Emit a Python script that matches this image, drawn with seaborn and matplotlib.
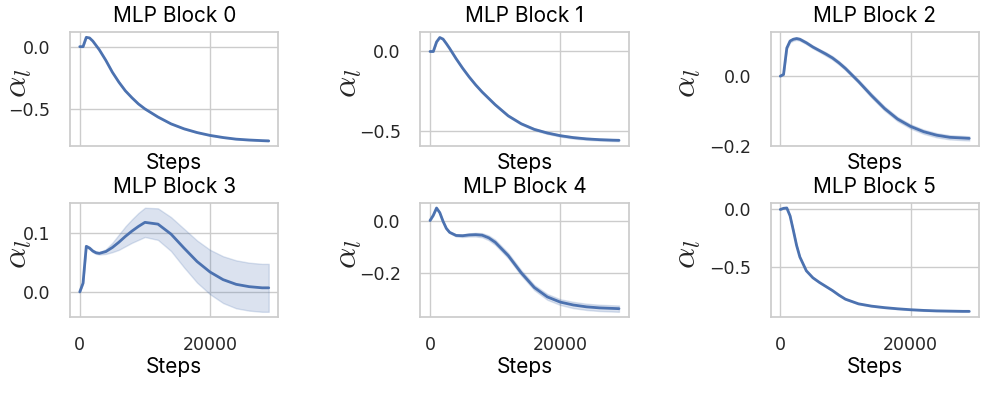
import numpy as np
import pandas as pd
import seaborn as sns
import matplotlib.pyplot as plt

# training steps (shared by every block)
steps = [0, 500, 1000, 1500, 2000, 2500, 3000, 4000, 5000, 6000, 7000, 8000, 9000, 10000,
         12000, 14000, 16000, 18000, 20000, 22000, 24000, 26000, 28000, 29000]

# mean alpha_l per MLP block and half width of the shaded band
block_0 = [0.0, 0.0, 0.075, 0.07, 0.045, 0.01, -0.025, -0.11, -0.205, -0.285, -0.355, -0.41, -0.46, -0.5,
           -0.565, -0.62, -0.66, -0.69, -0.713, -0.73, -0.743, -0.75, -0.755, -0.757]
block_0_band = [0.0, 0.001, 0.001, 0.001, 0.001, 0.002, 0.002, 0.002, 0.002, 0.003, 0.003, 0.003, 0.003, 0.003,
                0.003, 0.003, 0.003, 0.003, 0.003, 0.003, 0.003, 0.003, 0.003, 0.003]

block_1 = [0.0, 0.0, 0.06, 0.088, 0.078, 0.05, 0.02, -0.045, -0.105, -0.16, -0.21, -0.255, -0.295, -0.335,
           -0.405, -0.455, -0.49, -0.513, -0.53, -0.542, -0.55, -0.555, -0.558, -0.559]
block_1_band = [0.0, 0.001, 0.001, 0.002, 0.002, 0.002, 0.003, 0.003, 0.004, 0.004, 0.004, 0.004, 0.005, 0.005,
                0.005, 0.005, 0.006, 0.006, 0.006, 0.006, 0.006, 0.006, 0.006, 0.006]

block_2 = [0.0, 0.005, 0.08, 0.1, 0.105, 0.107, 0.105, 0.095, 0.083, 0.073, 0.063, 0.052, 0.038, 0.022,
           -0.015, -0.055, -0.092, -0.122, -0.143, -0.158, -0.168, -0.174, -0.176, -0.177]
block_2_band = [0.0, 0.002, 0.004, 0.004, 0.004, 0.004, 0.004, 0.004, 0.004, 0.004, 0.005, 0.005, 0.005, 0.005,
                0.005, 0.006, 0.006, 0.006, 0.006, 0.006, 0.006, 0.006, 0.006, 0.006]

block_3 = [0.0, 0.015, 0.078, 0.075, 0.07, 0.067, 0.066, 0.069, 0.076, 0.085, 0.095, 0.104, 0.112, 0.119,
           0.116, 0.099, 0.075, 0.052, 0.034, 0.021, 0.013, 0.009, 0.007, 0.007]
block_3_band = [0.0, 0.001, 0.002, 0.002, 0.002, 0.002, 0.002, 0.004, 0.008, 0.013, 0.017, 0.02, 0.023, 0.025,
                0.027, 0.029, 0.033, 0.036, 0.038, 0.04, 0.041, 0.041, 0.041, 0.041]

block_4 = [0.0, 0.02, 0.048, 0.03, -0.003, -0.03, -0.045, -0.057, -0.058, -0.055, -0.054, -0.056, -0.066, -0.083,
           -0.134, -0.2, -0.256, -0.292, -0.312, -0.323, -0.33, -0.334, -0.336, -0.337]
block_4_band = [0.0, 0.001, 0.001, 0.002, 0.002, 0.003, 0.003, 0.004, 0.005, 0.006, 0.007, 0.008, 0.009, 0.01,
                0.01, 0.01, 0.01, 0.011, 0.011, 0.012, 0.012, 0.012, 0.012, 0.012]

block_5 = [0.0, 0.01, 0.013, -0.055, -0.18, -0.31, -0.41, -0.53, -0.59, -0.63, -0.665, -0.7, -0.74, -0.775,
           -0.815, -0.835, -0.848, -0.858, -0.866, -0.872, -0.876, -0.878, -0.88, -0.88]
block_5_band = [0.0, 0.001, 0.002, 0.002, 0.003, 0.003, 0.003, 0.003, 0.003, 0.004, 0.004, 0.004, 0.004, 0.004,
                0.004, 0.004, 0.004, 0.004, 0.004, 0.004, 0.004, 0.004, 0.004, 0.004]

titles = ['MLP Block 0', 'MLP Block 1', 'MLP Block 2', 'MLP Block 3', 'MLP Block 4', 'MLP Block 5']
y_ticks = [[-0.5, 0.0], [-0.5, 0.0], [-0.2, 0.0], [0.0, 0.1], [-0.2, 0.0], [-0.5, 0.0]]
x_ticks = [0, 20000]

means = [block_0, block_1, block_2, block_3, block_4, block_5]
bands = [block_0_band, block_1_band, block_2_band, block_3_band, block_4_band, block_5_band]


def band_df(mean, band):
    # lower / upper edge as two runs, so seaborn draws the mean and min-max band
    mean = np.array(mean)
    band = np.array(band)
    return pd.DataFrame({'step': np.tile(steps, 2),
                         'alpha': np.concatenate([mean - band, mean + band])})


sns.set_theme(style='whitegrid')
plt.rcParams['mathtext.fontset'] = 'cm'
label_font = {'family': 'Inter', 'size': 15, 'color': 'black'}

fig, axes = plt.subplots(2, 3, figsize=(9.97, 3.96), dpi=100)
fig.subplots_adjust(left=70 / 997, right=979 / 997, top=1 - 32 / 396, bottom=1 - 317 / 396,
                    wspace=0.68, hspace=0.49)

label_x = [-0.175, -0.27, -0.322]
color = sns.color_palette('deep')[0]

for i, ax in enumerate(axes.flat):
    sns.lineplot(data=band_df(means[i], bands[i]), x='step', y='alpha', errorbar=('pi', 100),
                 color=color, linewidth=2, ax=ax)
    ax.set_title(titles[i], fontdict=label_font, pad=7)
    ax.set_xlabel('Steps', fontdict=label_font, labelpad=5 if i < 3 else 2)
    ax.set_ylabel(r'$\alpha_l$', fontsize=24)
    ax.yaxis.set_label_coords(label_x[i % 3], 0.55)
    ax.set_yticks(y_ticks[i])
    ax.set_xticks(x_ticks)
    ax.set_xlim(-1500, 30500)
    ax.tick_params(labelsize=12.5, pad=8)
    if i < 3:
        ax.tick_params(labelbottom=False)

plt.savefig('out.png', dpi=100)
